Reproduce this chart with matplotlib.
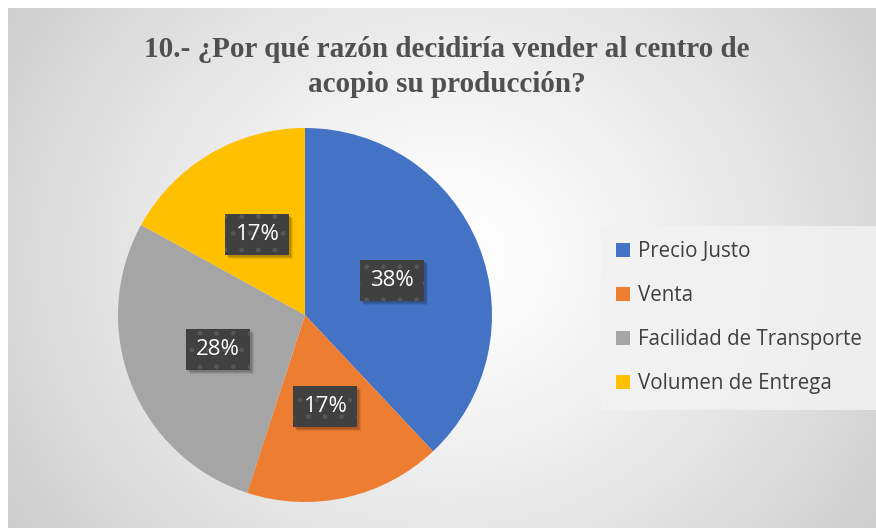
import numpy as np
import matplotlib
matplotlib.use("Agg")
import matplotlib.pyplot as plt
from matplotlib.patches import Patch, Rectangle

title = "10.- ¿Por qué razón decidiría vender al centro de\nacopio su producción?"
categories = ["Precio Justo", "Venta", "Facilidad de Transporte", "Volumen de Entrega"]
values = [38, 17, 28, 17]
colors = ["#4472C4", "#ED7D31", "#A5A5A5", "#FFC000"]

W, H = 876, 528
fig = plt.figure(figsize=(W / 100, H / 100), dpi=100)
fig.patch.set_facecolor("white")

# radial gradient background
bg = fig.add_axes([8 / W, 0, (W - 8) / W, (H - 8) / H])
bg.set_axis_off()
yy, xx = np.mgrid[0:H - 8, 0:W - 8]
cx, cy = 440, 250
r = np.hypot((xx - cx) * 0.9, (yy - cy))
v = 1.0 - 0.22 * np.clip(r / 520, 0, 1) ** 1.3
bg.imshow(np.dstack([v, v, v]), aspect="auto", interpolation="bilinear")

fig.text(447 / W, 1 - 67 / H, title, ha="center", va="center",
         fontsize=21, fontweight="bold", family="Liberation Serif",
         color="#505050", linespacing=1.38)

# pie
cxp, cyp, R = 305, 315, 187
ax = fig.add_axes([(cxp - R) / W, (H - cyp - R) / H, 2 * R / W, 2 * R / H])
ax.set_axis_off()
wedges, texts, autotexts = ax.pie(values, colors=colors, startangle=90, counterclock=False,
                                  autopct=lambda p: f"{p:.0f}%", pctdistance=0.5,
                                  wedgeprops=dict(linewidth=0),
                                  textprops=dict(color="white", fontsize=16, family="Open Sans"))
ax.set_xlim(-1, 1)
ax.set_ylim(-1, 1)
for t in autotexts:
    t.set_bbox(dict(boxstyle="square,pad=0.45", facecolor="#404040", edgecolor="#575757",
                    linewidth=0, hatch="."))

handles = [Patch(facecolor=c, edgecolor="none") for c in colors]
leg = fig.legend(handles, categories, loc="upper left",
                 bbox_to_anchor=(601 / W, 1 - 226 / H), frameon=True,
                 prop=dict(family="Open Sans", size=14.8), labelcolor="#404040",
                 handlelength=0.65, handleheight=0.65, handletextpad=0.4,
                 labelspacing=1.12, borderpad=0.75, borderaxespad=0, fancybox=False)
leg.get_frame().set_facecolor("#f2f2f2")
leg.get_frame().set_alpha(0.85)
leg.get_frame().set_linewidth(0)

# soft shadows behind label boxes, sized from the drawn boxes
fig.canvas.draw()
rend = fig.canvas.get_renderer()
for t in autotexts:
    ext = t.get_bbox_patch().get_window_extent(rend)
    for k, a in [(4, 0.08), (3, 0.10), (2, 0.12)]:
        rect = Rectangle((ext.x0 + k, ext.y0 - k), ext.width, ext.height,
                         transform=None, facecolor="black", alpha=a, linewidth=0,
                         zorder=t.get_zorder() - 0.5)
        ax.add_artist(rect)

fig.savefig("out.png", dpi=100)
